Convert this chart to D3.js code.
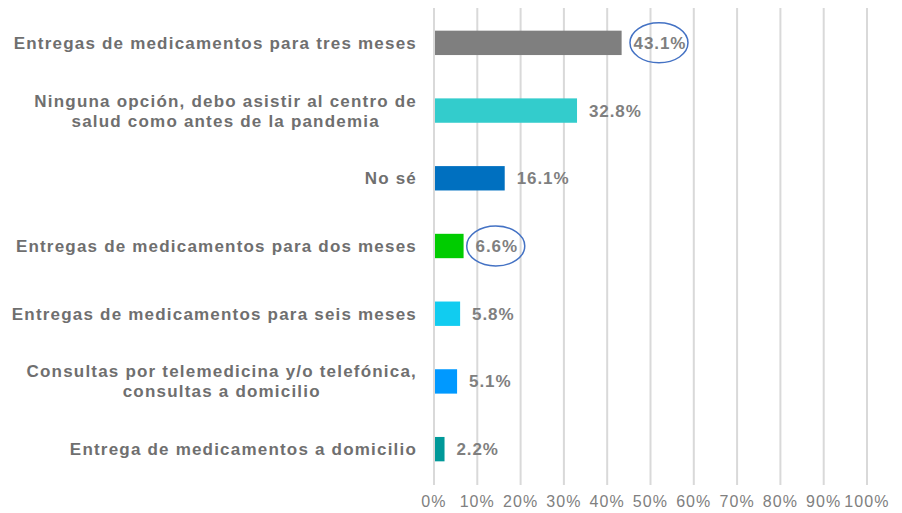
<!DOCTYPE html>
<html>
<head>
<meta charset="utf-8">
<script src="https://cdn.jsdelivr.net/npm/d3@7"></script>
<style>
  body { margin: 0; background: #fff; }
  text { font-family: "Liberation Sans", Arial, sans-serif; }
</style>
</head>
<body>
<div id="container"></div>
<script>
const categories = [
  ["Entregas de medicamentos para tres meses"],
  ["Ninguna opción, debo asistir al centro de", "salud como antes de la pandemia"],
  ["No sé"],
  ["Entregas de medicamentos para dos meses"],
  ["Entregas de medicamentos para seis meses"],
  ["Consultas por telemedicina y/o telefónica,", "consultas a domicilio"],
  ["Entrega de medicamentos a domicilio"]
]
const values = [43.1, 32.8, 16.1, 6.6, 5.8, 5.1, 2.2]
const barColors = ["#7f7f7f", "#33cccc", "#0070c0", "#00cc00", "#11ccf0", "#0099ff", "#009999"]
const circled = [0, 3]
const ticks = [0, 10, 20, 30, 40, 50, 60, 70, 80, 90, 100]

const w = 902
const h = 513

const svg = d3.select("#container")
  .append("svg")
  .attr("width", w)
  .attr("height", h)

const x = d3.scaleLinear().domain([0, 100]).range([434, 867])
const y = d3.scaleBand().domain(d3.range(values.length)).range([9, 483]).paddingInner(0.64).paddingOuter(0.32)

// gridlines
svg.append("g")
  .selectAll("line")
  .data(ticks)
  .enter()
  .append("line")
  .attr("x1", d => x(d))
  .attr("x2", d => x(d))
  .attr("y1", 8)
  .attr("y2", 485)
  .attr("stroke", "#d9d9d9")
  .attr("stroke-width", 2)

// x axis labels
svg.append("g")
  .selectAll("text")
  .data(ticks)
  .enter()
  .append("text")
  .attr("x", d => x(d))
  .attr("y", 507)
  .attr("text-anchor", "middle")
  .attr("font-size", 16)
  .attr("letter-spacing", 1.1)
  .attr("fill", "#808080")
  .text(d => d + "%")

// bars
svg.append("g")
  .selectAll("rect")
  .data(values)
  .enter()
  .append("rect")
  .attr("x", x(0) + 1)
  .attr("y", (d, i) => y(i))
  .attr("width", d => x(d) - x(0))
  .attr("height", y.bandwidth())
  .attr("fill", (d, i) => barColors[i])

// value labels
const valLabels = svg.append("g")
  .selectAll("text")
  .data(values)
  .enter()
  .append("text")
  .attr("x", d => x(d) + 13)
  .attr("y", (d, i) => y(i) + y.bandwidth() / 2 + 6)
  .attr("font-size", 17)
  .attr("font-weight", "bold")
  .attr("letter-spacing", 0.9)
  .attr("fill", "#7f7f7f")
  .text(d => d.toFixed(1) + "%")

const labelW = valLabels.nodes().map(n => n.getComputedTextLength())

// circles around highlighted values
svg.append("g")
  .selectAll("ellipse")
  .data(circled)
  .enter()
  .append("ellipse")
  .attr("cx", i => x(values[i]) + 13 + labelW[i] / 2 - 1)
  .attr("cy", i => y(i) + y.bandwidth() / 2)
  .attr("rx", 29)
  .attr("ry", 20)
  .attr("fill", "none")
  .attr("stroke", "#4472c4")
  .attr("stroke-width", 1.5)

// category labels
const labelRight = 417
const lineH = 20
const cats = svg.append("g")
  .selectAll("text")
  .data(categories)
  .enter()
  .append("text")
  .attr("font-size", 17)
  .attr("font-weight", "bold")
  .attr("letter-spacing", 1.2)
  .attr("fill", "#6f6f6f")
  .attr("text-anchor", "middle")

cats.each(function (lines, i) {
  const t = d3.select(this)
  const cy = y(i) + y.bandwidth() / 2
  const top = cy - (lines.length - 1) * lineH / 2 + 6
  lines.forEach((l, k) => {
    t.append("tspan").attr("y", top + k * lineH).text(l)
  })
  const widest = d3.max(t.selectAll("tspan").nodes(), n => n.getComputedTextLength())
  t.selectAll("tspan").attr("x", labelRight - widest / 2)
})
</script>
</body>
</html>
